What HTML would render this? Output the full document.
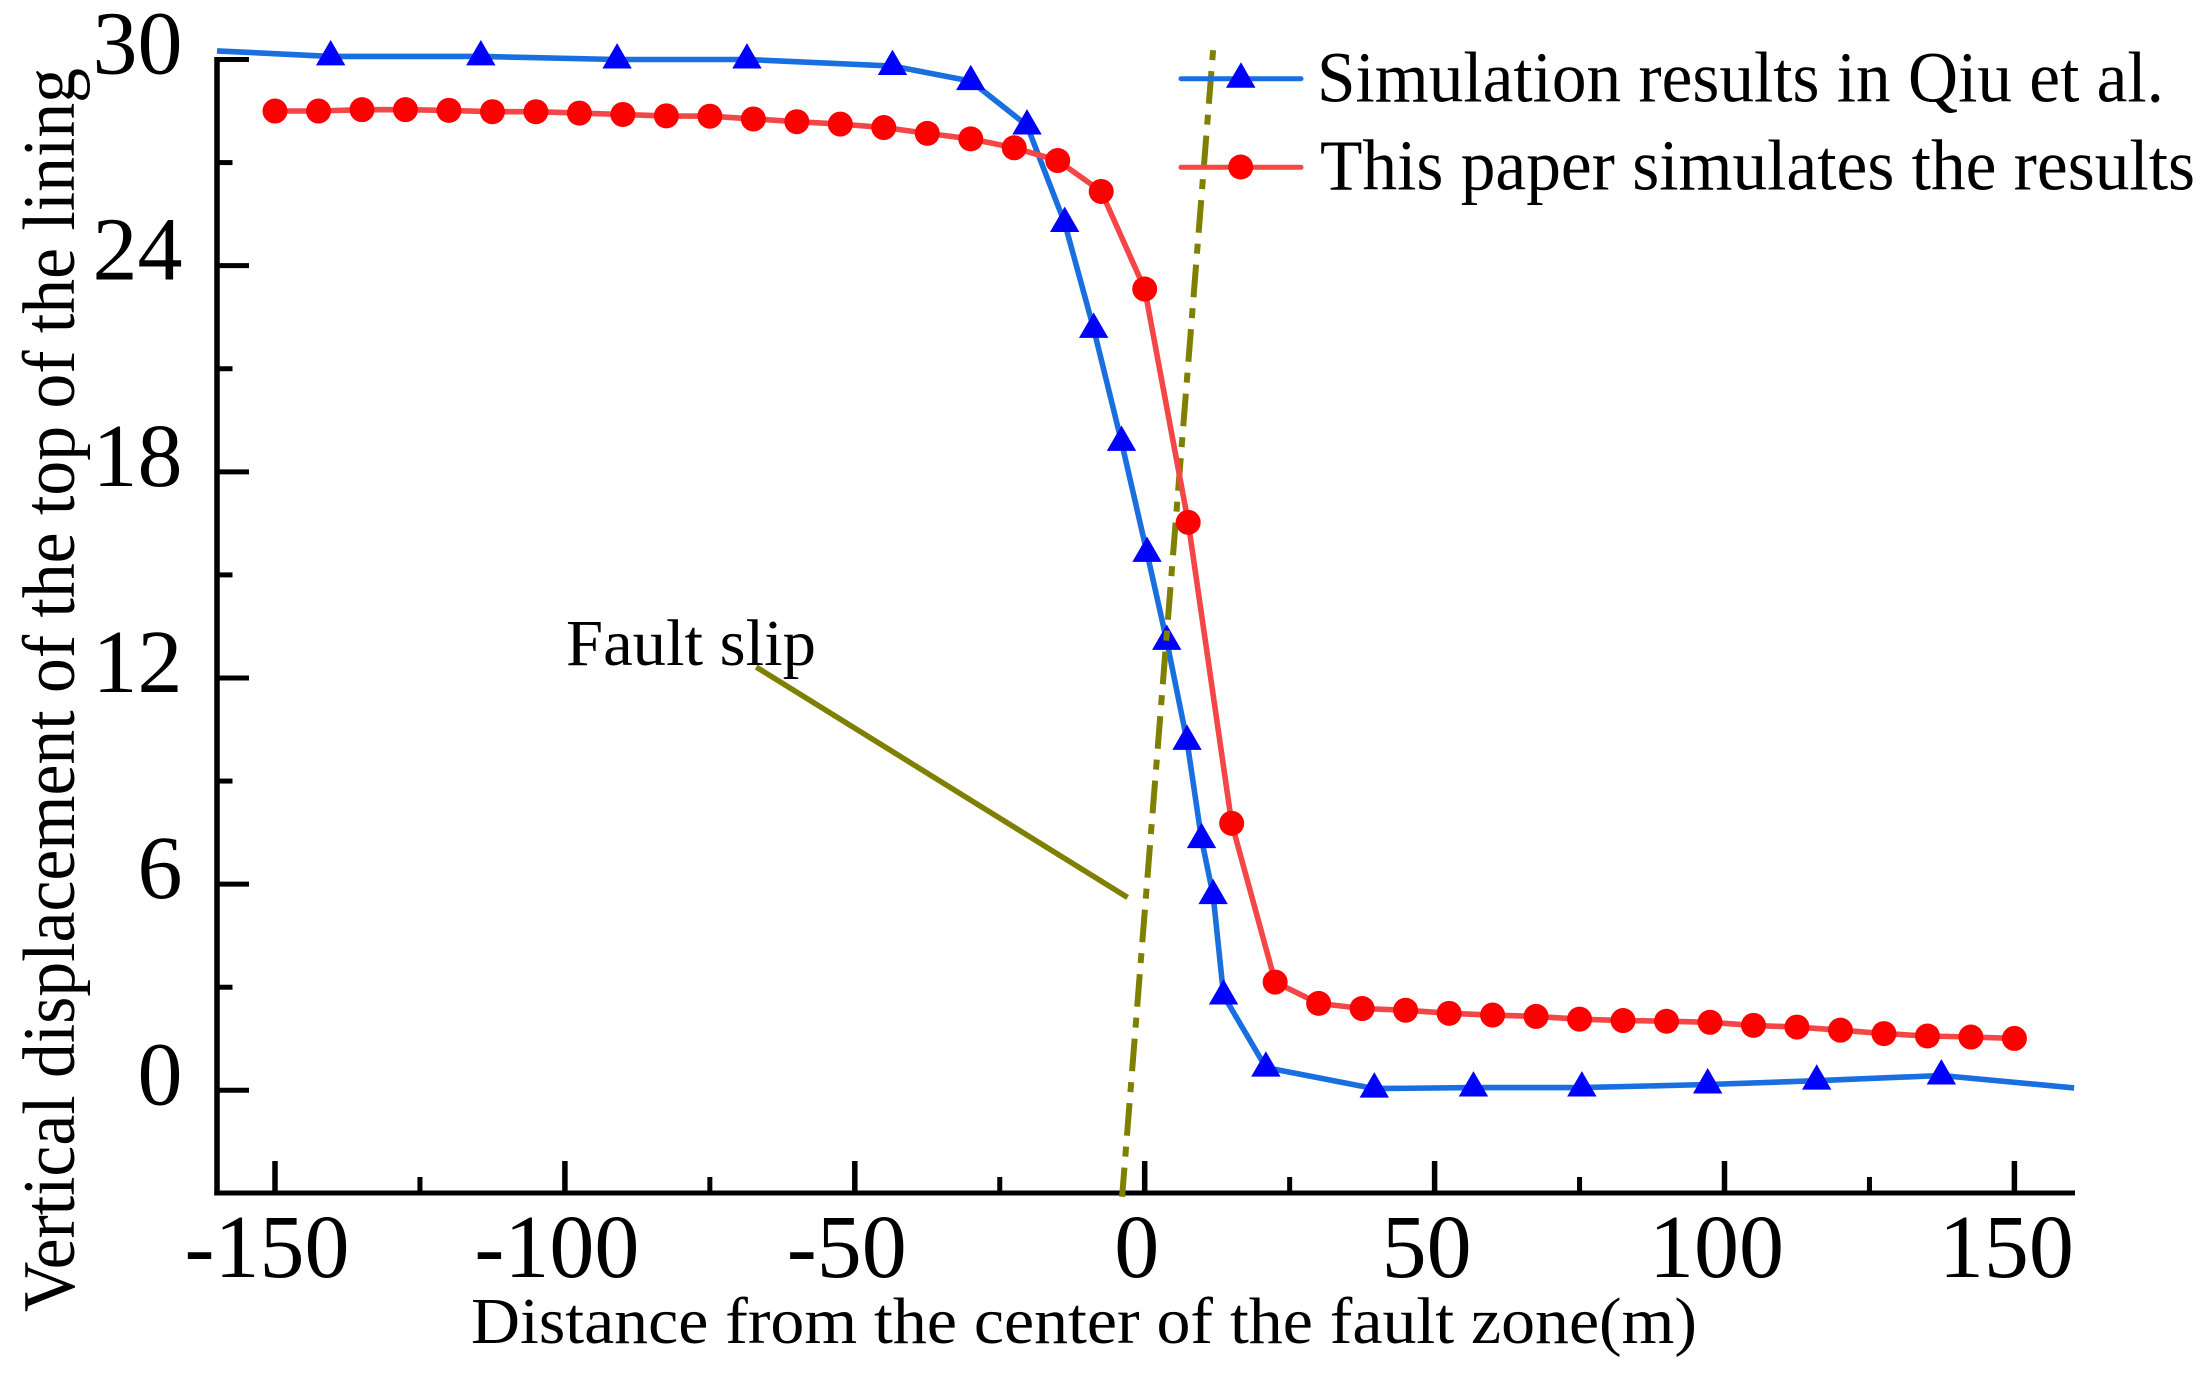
<!DOCTYPE html>
<html lang="en">
<head>
<meta charset="utf-8">
<title>Vertical displacement of the top of the lining</title>
<style>
html,body{margin:0;padding:0;background:#fff;width:2206px;height:1375px;overflow:hidden}
svg{display:block;font-family:"Liberation Serif",serif;fill:#000}
</style>
</head>
<body>
<svg id="chart" xmlns="http://www.w3.org/2000/svg" width="2206" height="1375" viewBox="0 0 2206 1375">
<rect x="0" y="0" width="2206" height="1375" fill="#fff"/>
<g id="axes"></g>
<g id="series-blue"></g>
<g id="annotations"></g>
<g id="series-red"></g>
<text transform="translate(74,1312) rotate(-90)" font-size="74" textLength="1244" lengthAdjust="spacingAndGlyphs">Vertical displacement of the top of the lining</text>
<text x="471" y="1343" font-size="66" textLength="1226" lengthAdjust="spacingAndGlyphs">Distance from the center of the fault zone(m)</text>
<text x="566" y="665" font-size="66" textLength="250" lengthAdjust="spacingAndGlyphs">Fault slip</text>
<g>
<g>
<line x1="1181" y1="78.7" x2="1301" y2="78.7" stroke="#1a6fe0" stroke-width="5" stroke-linecap="round"/>
<polygon points="1241,62.3 1226,87.7 1255.5,87.7" fill="#0000ff"/>
<text x="1317" y="101.5" font-size="72" textLength="847" lengthAdjust="spacingAndGlyphs">Simulation results in Qiu et al.</text>
</g>
<g>
<line x1="1181" y1="167.3" x2="1301" y2="167.3" stroke="#f44646" stroke-width="5" stroke-linecap="round"/>
<circle cx="1240.7" cy="167" r="12.5" fill="#ff0000"/>
<text x="1320" y="189.3" font-size="72" textLength="875" lengthAdjust="spacingAndGlyphs">This paper simulates the results</text>
</g>
</g>
</svg>
<script>
const xTickLabels = ["-150","-100","-50","0","50","100","150"];
const xMajorTicks = [-150,-100,-50,0,50,100,150];
const xMinorTicks = [-125,-75,-25,25,75,125];
const yTickLabels = ["0","6","12","18","24","30"];
const yMajorTicks = [0,6,12,18,24,30];
const yMinorTicks = [3,9,15,21,27];
const blueX = [-160,-140.4,-114.5,-91,-68.6,-43.5,-30,-20.3,-13.8,-8.8,-4,0.4,3.8,7.3,9.8,11.8,13.6,20.9,39.6,56.7,75.4,97.1,115.9,137.4,160.3];
const blueY = [30.25,30.09,30.09,30,30,29.81,29.37,28.08,25.24,22.16,18.87,15.64,13.08,10.17,7.31,5.68,2.76,0.66,0.05,0.08,0.08,0.17,0.28,0.43,0.07];
const redX = [-150,-142.5,-135,-127.5,-120,-112.5,-105,-97.5,-90,-82.5,-75,-67.5,-60,-52.5,-45,-37.5,-30,-22.5,-15,-7.5,0,7.5,15,22.5,30,37.5,45,52.5,60,67.5,75,82.5,90,97.5,105,112.5,120,127.5,135,142.5,150];
const redY = [28.5,28.5,28.54,28.54,28.52,28.48,28.48,28.44,28.4,28.36,28.35,28.27,28.19,28.12,28.02,27.85,27.69,27.43,27.06,26.16,23.32,16.53,7.77,3.15,2.53,2.38,2.33,2.24,2.19,2.15,2.07,2.03,2.01,1.98,1.89,1.84,1.75,1.65,1.58,1.55,1.51];
const faultLineX = [11.8,-3.9];
const faultLineY = [30.27,-3.1];
const leaderX = [-67,-2.95];
const leaderY = [12.32,5.61];

const NS = "http://www.w3.org/2000/svg";
function sx(v){ return 1144.7 + 5.798 * v; }
function sy(v){ return 1090.3 - 34.36 * v; }
function mk(parent, tag, attrs){
  const el = document.createElementNS(NS, tag);
  for (const k in attrs) el.setAttribute(k, attrs[k]);
  parent.appendChild(el);
  return el;
}
function pts(xs, ys){ return xs.map((x,i)=>sx(x).toFixed(1)+","+sy(ys[i]).toFixed(1)).join(" "); }

const axes = document.getElementById("axes");
const blue = document.getElementById("series-blue");
const red = document.getElementById("series-red");
const notes = document.getElementById("annotations");
const AX_LEFT = 217, AX_BOTTOM = 1193;

let el = mk(axes,"line",{x1:AX_LEFT,y1:57,x2:AX_LEFT,y2:AX_BOTTOM+2.5,stroke:"#000","stroke-width":5.5});


el = mk(axes,"line",{x1:AX_LEFT-2.7,y1:AX_BOTTOM,x2:2075,y2:AX_BOTTOM,stroke:"#000","stroke-width":5});



xMajorTicks.forEach((v,i)=>{
  const t = mk(axes,"line",{x1:sx(v),y1:1161,x2:sx(v),y2:AX_BOTTOM,stroke:"#000","stroke-width":5.5});
  
  
  const l = mk(axes,"text",{x:sx(v)-8,y:1277,"font-size":90,"text-anchor":"middle"});
  l.textContent = xTickLabels[i];
  
  
});
xMinorTicks.forEach(v=>{
  const t = mk(axes,"line",{x1:sx(v),y1:1177,x2:sx(v),y2:AX_BOTTOM,stroke:"#000","stroke-width":5});
  
  
});
yMajorTicks.forEach((v,i)=>{
  const t = mk(axes,"line",{x1:AX_LEFT,y1:sy(v),x2:249,y2:sy(v),stroke:"#000","stroke-width":5});
  
  
  const l = mk(axes,"text",{x:182.5,y:sy(v)+14,"font-size":90,"text-anchor":"end"});
  l.textContent = yTickLabels[i];
  
  
});
yMinorTicks.forEach(v=>{
  const t = mk(axes,"line",{x1:AX_LEFT,y1:sy(v),x2:232.5,y2:sy(v),stroke:"#000","stroke-width":5});
  
  
});

el = mk(blue,"polyline",{points:pts(blueX,blueY),fill:"none",stroke:"#1a6fe0","stroke-width":5.6,"stroke-linejoin":"round"});


blueX.forEach((x,i)=>{
  if (i === 0 || i === blueX.length - 1) return;
  const cx = sx(x), cy = sy(blueY[i]);
  const m = mk(blue,"polygon",{points:`${cx},${cy-16.4} ${cx-14.7},${cy+9} ${cx+14.7},${cy+9}`,fill:"#0000ff"});
  
  
});

el = mk(notes,"polyline",{points:pts(faultLineX,faultLineY),fill:"none",stroke:"#808000","stroke-width":6,"stroke-dasharray":"10 11 32.7 11"});


el = mk(notes,"polyline",{points:pts(leaderX,leaderY),fill:"none",stroke:"#808000","stroke-width":5.5});



el = mk(red,"polyline",{points:pts(redX,redY),fill:"none",stroke:"#f44646","stroke-width":5.6,"stroke-linejoin":"round"});


redX.forEach((x,i)=>{
  const m = mk(red,"circle",{cx:sx(x),cy:sy(redY[i]),r:12.5,fill:"#ff0000"});
  
  
});
</script>
</body>
</html>
